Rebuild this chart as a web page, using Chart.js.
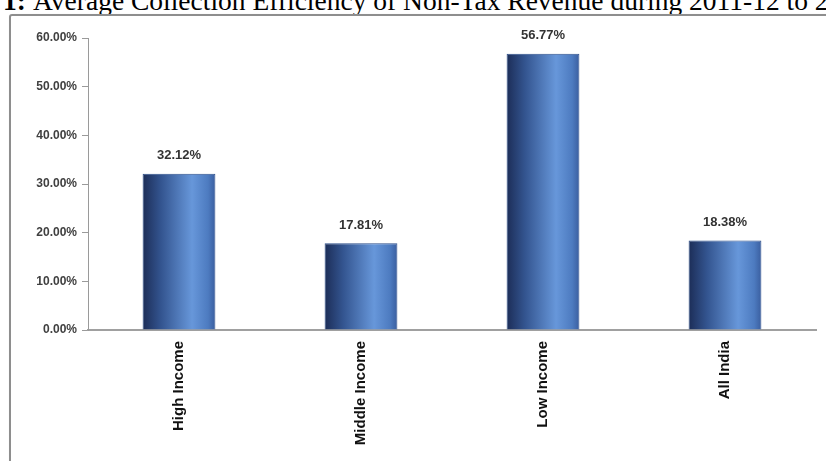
<!DOCTYPE html>
<html>
<head>
<meta charset="utf-8">
<script src="https://cdn.jsdelivr.net/npm/chart.js@4.4.0/dist/chart.umd.min.js"></script>
<style>
  html, body { margin: 0; padding: 0; background: #fff; }
  body { width: 826px; height: 461px; position: relative; overflow: hidden; }
  #title {
    position: absolute; left: 33px; top: -15px;
    font-family: "Liberation Serif", "Times New Roman", serif;
    font-size: 27.5px; line-height: 31px; white-space: nowrap; color: #000;
  }
  #title b { position: absolute; right: 100%; padding-right: 7px; }
  #frame {
    position: absolute; left: 9px; top: 14px; width: 900px; height: 500px;
    border: 2px solid #8e8e8e; border-radius: 3px;
    box-shadow: 1px 1px 2px #bbb;
  }
  #wrap { position: absolute; left: 0; top: 0; width: 826px; height: 461px; }
</style>
</head>
<body>
<div id="title"><b>Chart 1:</b>Average Collection Efficiency of Non-Tax Revenue during 2011-12 to 2015-16</div>
<div id="frame"></div>
<div id="wrap"><canvas id="chart"></canvas></div>
<script>
const categories = ['High Income', 'Middle Income', 'Low Income', 'All India'];
const efficiency = [32.12, 17.81, 56.77, 18.38];
const yTicks = [0, 10, 20, 30, 40, 50, 60];

// horizontal gradient per bar, like the Excel cylinder fill
const barGradient = {
  id: 'barGradient',
  beforeDatasetsDraw(chart) {
    const ctx = chart.ctx;
    chart.getDatasetMeta(0).data.forEach(bar => {
      const x0 = bar.x - bar.width / 2;
      const g = ctx.createLinearGradient(x0, 0, x0 + bar.width, 0);
      g.addColorStop(0, '#1c2d57');
      g.addColorStop(0.25, '#33548f');
      g.addColorStop(0.68, '#6797da');
      g.addColorStop(0.9, '#4d7bc0');
      g.addColorStop(1, '#3a5e9f');
      bar.options.backgroundColor = g;
    });
  }
};

const valueLabels = {
  id: 'valueLabels',
  afterDatasetsDraw(chart) {
    const ctx = chart.ctx;
    ctx.save();
    ctx.font = 'bold 13px "Liberation Sans", Arial, sans-serif';
    ctx.fillStyle = '#333';
    ctx.textAlign = 'center';
    ctx.textBaseline = 'middle';
    chart.getDatasetMeta(0).data.forEach((bar, i) => {
      ctx.fillText(efficiency[i].toFixed(2) + '%', bar.x, bar.y - 18);
    });
    ctx.restore();
  }
};

new Chart(document.getElementById('chart'), {
  type: 'bar',
  data: {
    labels: categories,
    datasets: [{
      data: efficiency,
      // scriptable so every bar gets its own options object
      backgroundColor: () => '#4f7ec4',
      borderColor: '#2d4f8a',
      borderWidth: 1,
      barPercentage: 0.8,
      categoryPercentage: 0.5
    }]
  },
  options: {
    responsive: true,
    maintainAspectRatio: false,
    animation: false,
    layout: { padding: { left: 0, top: 38, right: 10, bottom: 0 } },
    plugins: { legend: { display: false }, tooltip: { enabled: false } },
    scales: {
      x: {
        grid: { display: false, drawTicks: false },
        border: { color: '#a0a0a0', width: 2 },
        ticks: {
          minRotation: 90, maxRotation: 90, padding: 11,
          color: '#111',
          font: { family: '"Liberation Sans", Arial, sans-serif', size: 15, weight: 'bold' }
        },
        afterFit: s => { s.height = 131; }
      },
      y: {
        min: 0, max: 60,
        afterBuildTicks: s => { s.ticks = yTicks.map(v => ({ value: v })); },
        grid: { drawOnChartArea: false, tickLength: 6, color: '#9a9a9a' },
        border: { color: '#9a9a9a', width: 1 },
        ticks: {
          padding: 5,
          color: '#404040',
          font: { family: '"Liberation Sans", Arial, sans-serif', size: 12, weight: 'bold' },
          callback: v => v.toFixed(2) + '%'
        },
        afterFit: s => { s.width = 88; }
      }
    }
  },
  plugins: [barGradient, valueLabels]
});
</script>
</body>
</html>
